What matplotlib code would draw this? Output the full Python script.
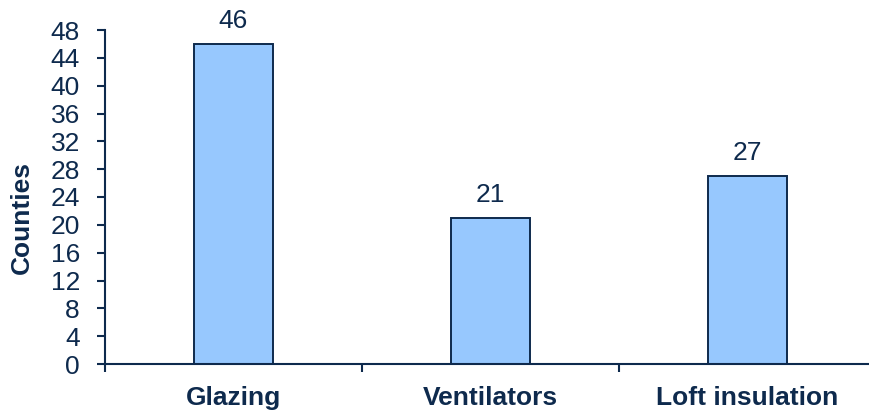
import matplotlib.pyplot as plt
import numpy as np

categories = ["Glazing", "Ventilators", "Loft insulation"]
counts = [46, 21, 27]
y_ticks = list(range(0, 49, 4))

navy = "#0E2A4D"
bar_fill = "#97C8FE"

plt.rcParams["font.family"] = ["Liberation Sans", "DejaVu Sans"]

fig = plt.figure(figsize=(8.7, 4.13), dpi=100)
ax = fig.add_axes([105 / 870, 49 / 413, 771 / 870, 334 / 413])

x = np.arange(len(categories))
bars = ax.bar(x, counts, width=0.31, color=bar_fill, edgecolor=navy, linewidth=1.4)

for rect, val in zip(bars, counts):
    ax.annotate(str(val), (rect.get_x() + rect.get_width() / 2, val),
                xytext=(0, 8), textcoords="offset points",
                ha="center", va="bottom", fontsize=19, color=navy)

ax.set_xlim(-0.5, 2.5)
ax.set_ylim(0, 48)
ax.set_yticks(y_ticks)
ax.tick_params(axis="y", labelsize=19, colors=navy, length=6, width=1.5, pad=12)

# category names centred, small ticks between categories
ax.set_xticks(x)
ax.set_xticklabels(categories, fontsize=19, fontweight="bold", color=navy)
ax.tick_params(axis="x", which="major", length=0, pad=16)
ax.set_xticks([-0.5, 0.5, 1.5], minor=True)
ax.tick_params(axis="x", which="minor", length=6, width=1.5, color=navy, direction="out")

fig.text(22 / 870, 1 - 218 / 413, "Counties", rotation=90, ha="center", va="center",
         fontsize=19, fontweight="bold", color=navy)

for side in ("top", "right"):
    ax.spines[side].set_visible(False)
for side in ("left", "bottom"):
    ax.spines[side].set_color(navy)
    ax.spines[side].set_linewidth(1.5)

fig.savefig("out.png", dpi=100)
